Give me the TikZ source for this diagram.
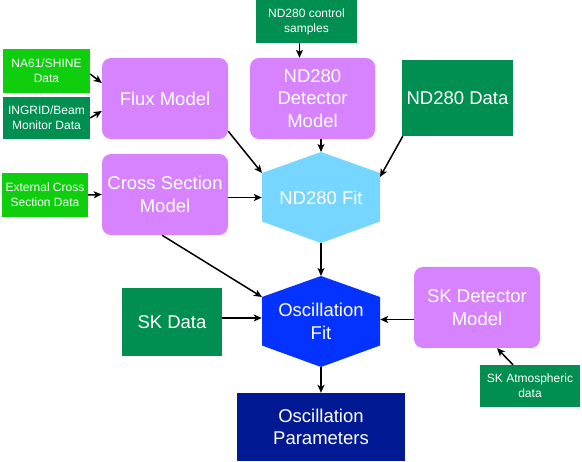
\documentclass[tikz,border=0pt]{standalone}
\usepackage{fontspec}
\setmainfont{Liberation Sans}
\usetikzlibrary{arrows.meta}

\definecolor{extgreen}{RGB}{14,206,14}
\definecolor{datagreen}{RGB}{0,143,80}
\definecolor{lavender}{RGB}{215,131,255}
\definecolor{skyblue}{RGB}{118,214,255}
\definecolor{fitblue}{RGB}{4,51,255}
\definecolor{midnight}{RGB}{1,25,147}

\tikzset{
  box/.style={inner sep=0pt, align=center, text=white},
  big/.style={font=\fontsize{18.5}{22.5}\selectfont},
  small/.style={font=\fontsize{12}{15}\selectfont},
  model/.style={box, big, fill=lavender, rounded corners=9pt},
  extdata/.style={box, small, fill=extgreen},
  data/.style={box, fill=datagreen},
  arr/.style={line width=1.5pt, -{Stealth[length=8pt, width=7pt, inset=2pt]}}
}

\begin{document}
\begin{tikzpicture}[x=1pt, y=-1pt]
  \useasboundingbox (0,0) rectangle (582,462);

  % hexagon corners
  \foreach \name/\cx/\cy/\col in {ndfit/321/197.5/skyblue, oscfit/321/321.5/fitblue} {
    \coordinate (\name-t)  at (\cx, \cy-45.5);
    \coordinate (\name-ur) at (\cx+59, \cy-24.5);
    \coordinate (\name-lr) at (\cx+59, \cy+24);
    \coordinate (\name-b)  at (\cx, \cy+45.5);
    \coordinate (\name-ll) at (\cx-59, \cy+24);
    \coordinate (\name-ul) at (\cx-59, \cy-24.5);
    \fill[\col] (\name-t) -- (\name-ur) -- (\name-lr) -- (\name-b)
      -- (\name-ll) -- (\name-ul) -- cycle;
  }

  % fits
  \node[box, big, minimum width=118pt, minimum height=91pt] (ndfit) at (321,197.5) {ND280 Fit};
  \node[box, big, minimum width=118pt, minimum height=91pt] (oscfit) at (321,321.5) {Oscillation\\Fit};

  % models
  \node[model, minimum width=126pt, minimum height=81pt] (flux) at (165,98.5) {Flux Model};
  \node[model, minimum width=125pt, minimum height=81pt] (nddet) at (312.5,98.5) {ND280\\Detector\\Model};
  \node[model, minimum width=126pt, minimum height=81pt] (xsec) at (165,194.5) {Cross Section\\Model};
  \node[model, minimum width=126pt, minimum height=81pt] (skdet) at (477,307.5) {SK Detector\\Model};

  % inputs
  \node[extdata, minimum width=87pt, minimum height=44pt] (na61) at (46.5,71) {NA61/SHINE\\Data};
  \node[data, small, minimum width=87pt, minimum height=42pt] (ingrid) at (46.5,118) {INGRID/Beam\\Monitor Data};
  \node[extdata, minimum width=86pt, minimum height=44pt] (extxs) at (45,195) {External Cross\\Section Data};
  \node[data, small, minimum width=101pt, minimum height=43pt] (ctrl) at (306.5,21.5) {ND280 control\\samples};
  \node[data, small, minimum width=100pt, minimum height=42pt] (skatm) at (530,386) {SK Atmospheric\\data};
  \node[data, big, minimum width=111pt, minimum height=76pt] (nddata) at (457.5,98) {ND280 Data};
  \node[data, big, minimum width=100pt, minimum height=68pt] (skdata) at (172,322) {SK Data};

  % result
  \node[box, big, fill=midnight, minimum width=168pt, minimum height=68pt] (oscpar) at (321,427) {Oscillation\\Parameters};

  % arrows
  \draw[arr] ([yshift=-3pt]na61.east) -- ([yshift=15.5pt]flux.west);
  \draw[arr] (ingrid.east) -- ([yshift=-12.5pt]flux.west);
  \draw[arr] ([xshift=-7pt]ctrl.south) -- ([xshift=-7pt]ctrl.south |- nddet.north);
  \draw[arr] (extxs.east) -- (xsec.west);
  \draw[arr] ([yshift=8pt]flux.south east) -- (ndfit-ul);
  \draw[arr] (nddet.south -| ndfit.north) -- (ndfit-t);
  \draw[arr] ([xshift=1pt]nddata.south west) -- ([yshift=-4pt]ndfit-ur);
  \draw[arr] (ndfit.west -| xsec.east) -- (ndfit.west);
  \draw[arr] ([xshift=-3pt]xsec.south) -- (oscfit-ul);
  \draw[arr] (ndfit-b) -- (oscfit-t);
  \draw[arr] ([yshift=4pt]skdata.east) -- ([yshift=4pt]skdata.east -| oscfit.west);
  \draw[arr] ([yshift=-12pt]skdet.west) -- ([yshift=-12pt]skdet.west -| oscfit.east);
  \draw[arr] ([xshift=-17pt]skatm.north) -- ([xshift=20pt]skdet.south);
  \draw[arr] (oscfit-b) -- (oscpar.north);
\end{tikzpicture}
\end{document}
